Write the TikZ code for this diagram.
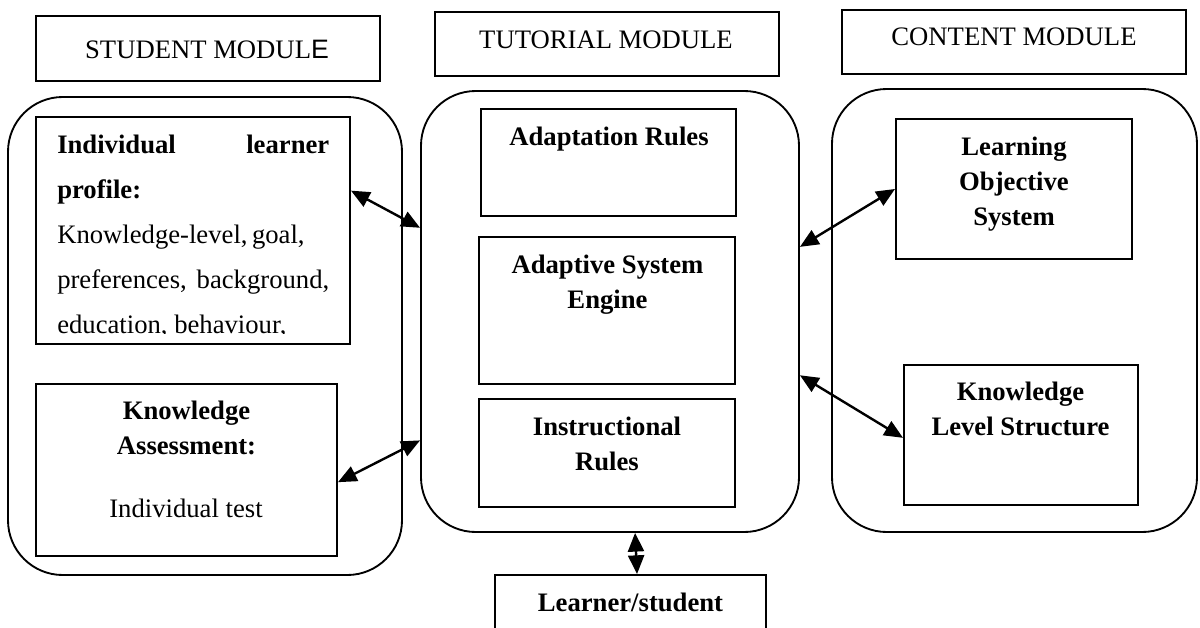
\documentclass[tikz,border=0pt]{standalone}
\usepackage{fontspec}
\setmainfont{Liberation Serif}
\setsansfont{Liberation Sans}
\usetikzlibrary{arrows.meta,calc,fit}
\begin{document}
\begin{tikzpicture}[x=0.75pt,y=-0.75pt,
  box/.style={draw, line width=1.5pt, inner sep=0pt, rectangle},
  cont/.style={draw, line width=1.4pt, inner sep=0pt, rectangle, rounded corners=41pt},
  lbl/.style={inner sep=0pt, anchor=north, align=center, font=\fontsize{20}{26.25}\selectfont},
  blbl/.style={lbl, font=\fontsize{20}{26.25}\selectfont\bfseries},
  arr/.style={line width=1.8pt, {Triangle[length=14pt,width=12pt]}-{Triangle[length=14pt,width=12pt]}}]
\useasboundingbox (0,0) rectangle (1200,628);

% header boxes
\node[box, fit={(36,16) (380,81)}] (hstu) {};
\node[box, fit={(435,12) (779,76)}] (htut) {};
\node[box, fit={(842,10) (1186,74)}] (hcon) {};
\node[lbl] (hstut) at (207,33.8) {\strut STUDENT MODUL{\sffamily E}};
\node[lbl] (htutt) at (606,23.8) {\strut TUTORIAL MODULE};
\node[lbl] (hcont) at (1014,20.5) {\strut CONTENT MODULE};

% containers
\node[cont, fit={(8,97) (402,575)}] (stu) {};
\node[cont, fit={(421,91) (799,532)}] (tut) {};
\node[cont, fit={(832,89) (1197,532)}] (con) {};

% student module boxes
\node[box, fit={(36,117) (350,344)}] (prof) {};
\begin{scope}
\clip (36,117) rectangle (350,333);
\node[inner sep=0pt, anchor=north west, text width=204pt, align=justify,
  font=\fontsize{20}{33.75}\selectfont] (proft) at (57,121.5)
  {\strut\textbf{Individual learner}\linebreak\textbf{profile:}\\Knowledge-level,\,goal,\\preferences, background,\linebreak education, behaviour,};
\end{scope}
\node[box, fit={(36,384) (337,556)}] (assess) {};
\node[blbl] (assesst) at (186.5,394.5) {\strut Knowledge\\Assessment:};
\node[lbl] (testt) at (186,492.5) {\strut Individual test};

% tutorial module boxes
\node[box, fit={(481,109) (736,216)}] (adapt) {};
\node[blbl] (adaptt) at (609,120.5) {\strut Adaptation Rules};
\node[box, fit={(479,237) (735,384)}] (engine) {};
\node[blbl] (enginet) at (607.5,248.5) {\strut Adaptive System\\Engine};
\node[box, fit={(479,399) (735,507)}] (instr) {};
\node[blbl] (instrt) at (607,410.5) {\strut Instructional\\Rules};

% content module boxes
\node[box, fit={(896,119) (1132,259)}] (los) {};
\node[blbl] (lost) at (1014,130.5) {\strut Learning\\Objective\\System};
\node[box, fit={(904,365) (1138,505)}] (kls) {};
\node[blbl] (klst) at (1020.5,375.5) {\strut Knowledge\\Level Structure};

% learner
\node[box, fit={(495,575) (766,645)}] (learner) {};
\node[blbl] (learnert) at (630.5,586.5) {\strut Learner/student};

% connectors
\draw[arr] ($(prof.north east)!0.326!(prof.south east)$) -- ($(tut.north west)!0.311!(tut.south west)$);
\draw[arr] ($(assess.north east)!0.57!(assess.south east)$) -- ($(tut.north west)!0.791!(tut.south west)$);
\draw[arr] ($(tut.north east)!0.354!(tut.south east)$) -- ($(los.north west)!0.5!(los.south west)$);
\draw[arr] ($(tut.north east)!0.644!(tut.south east)$) -- ($(kls.north west)!0.52!(kls.south west)$);
\draw[arr] ($(tut.south west)!0.566!(tut.south east)$) -- ($(learner.north west)!0.524!(learner.north east)$);
\end{tikzpicture}
\end{document}
